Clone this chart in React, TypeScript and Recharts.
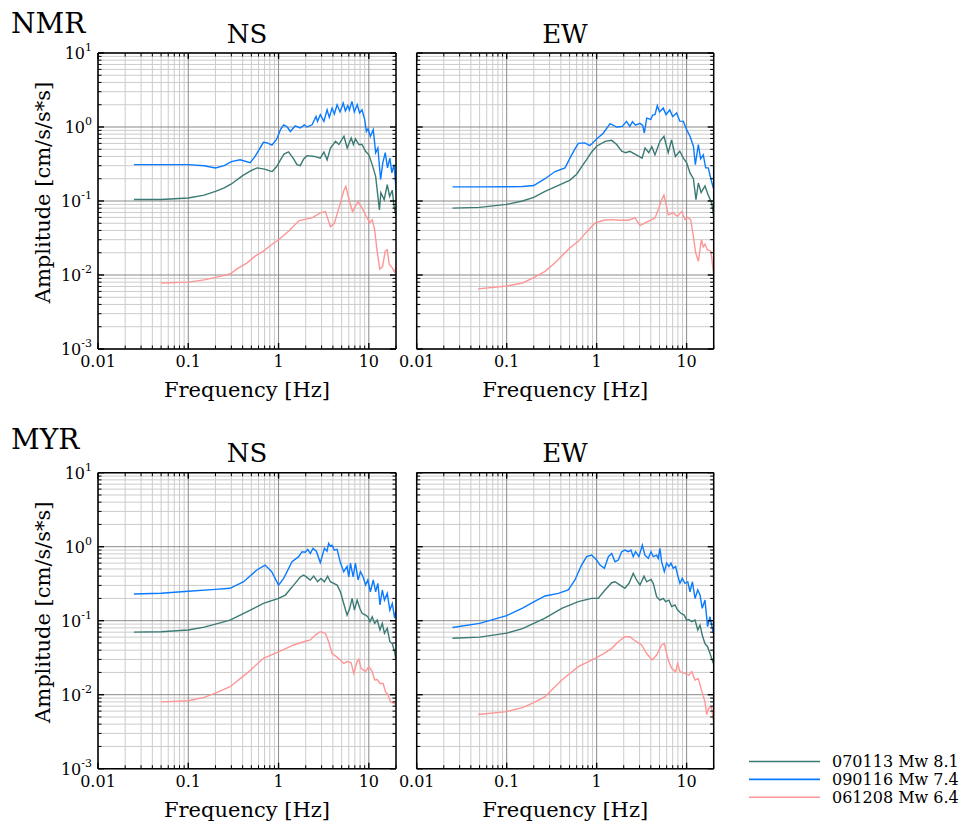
import React from "react";
import { LineChart, Line, XAxis, YAxis, CartesianGrid } from "recharts";

const FONT = '"DejaVu Serif", serif';
const GREEN = "#3b7a74";
const BLUE = "#0a7bff";
const RED = "#ff9696";

// axis ticks (log decades + minor steps)
const xMajor = [0.01, 0.1, 1, 10];
const xMinor = [0.02, 0.03, 0.04, 0.05, 0.06, 0.07, 0.08, 0.09, 0.2, 0.3, 0.4, 0.5, 0.6, 0.7, 0.8, 0.9, 2, 3, 4, 5, 6, 7, 8, 9, 20];
const yMajor = [0.001, 0.01, 0.1, 1, 10];
const yMinor = [
  0.002, 0.003, 0.004, 0.005, 0.006, 0.007, 0.008, 0.009,
  0.02, 0.03, 0.04, 0.05, 0.06, 0.07, 0.08, 0.09,
  0.2, 0.3, 0.4, 0.5, 0.6, 0.7, 0.8, 0.9,
  2, 3, 4, 5, 6, 7, 8, 9,
];
const xTicks = [...xMajor, ...xMinor].sort((a, b) => a - b);
const yTicks = [...yMajor, ...yMinor].sort((a, b) => a - b);

const legendNames = ["070113 Mw 8.1", "090116 Mw 7.4", "061208 Mw 6.4"];
const legendColors = [GREEN, BLUE, RED];

// [frequency Hz, amplitude cm/s/s*s]
const nmrNs070113 = [
  [0.025, 0.105], [0.05, 0.105], [0.1, 0.11], [0.15, 0.12], [0.2, 0.135], [0.25, 0.15], [0.3, 0.17],
  [0.4, 0.22], [0.5, 0.26], [0.58, 0.28], [0.7, 0.27], [0.8, 0.255], [0.85, 0.25], [0.95, 0.29],
  [1.05, 0.36], [1.15, 0.43], [1.29, 0.46], [1.45, 0.38], [1.6, 0.31], [1.74, 0.3], [1.9, 0.37],
  [2.07, 0.41], [2.5, 0.4], [2.9, 0.38], [3.18, 0.46], [3.45, 0.36], [3.76, 0.52], [4.27, 0.64],
  [4.66, 0.58], [5.3, 0.75], [5.76, 0.52], [6.38, 0.71], [6.75, 0.58], [7.1, 0.69], [7.76, 0.58],
  [8.4, 0.58], [9.2, 0.47], [10, 0.42], [10.9, 0.31], [11.9, 0.215], [13.1, 0.076], [13.6, 0.13],
  [14.8, 0.104], [16, 0.166], [17, 0.115], [18.2, 0.14], [19, 0.085], [20, 0.062],
];
const nmrNs090116 = [
  [0.025, 0.31], [0.05, 0.31], [0.1, 0.31], [0.15, 0.3], [0.2, 0.28], [0.25, 0.3], [0.3, 0.34],
  [0.375, 0.36], [0.485, 0.33], [0.55, 0.4], [0.6, 0.48], [0.68, 0.62], [0.75, 0.61], [0.845, 0.57],
  [0.95, 0.68], [1.05, 0.92], [1.14, 1.07], [1.25, 1.0], [1.35, 0.87], [1.53, 1.04], [1.74, 0.97],
  [1.93, 1.07], [2.07, 1.0], [2.35, 1.07], [2.6, 1.39], [2.7, 1.19], [2.9, 1.47], [3.18, 1.19],
  [3.45, 1.71], [3.65, 1.35], [3.92, 1.8], [4.15, 1.5], [4.45, 2.0], [4.8, 1.6], [5.2, 2.1],
  [5.5, 1.65], [5.85, 1.95], [6.1, 1.7], [6.5, 2.22], [6.9, 1.6], [7.44, 2.0], [7.9, 1.55],
  [8.4, 1.71], [9.0, 1.26], [9.4, 0.87], [9.8, 0.95], [10.4, 0.75], [11.2, 0.92], [11.9, 0.45],
  [12.6, 0.52], [13.5, 0.195], [14.3, 0.33], [15.2, 0.45], [16.1, 0.28], [17.1, 0.38], [18, 0.24],
  [19, 0.31], [19.6, 0.2], [20, 0.14],
];
const nmrNs061208 = [
  [0.05, 0.0078], [0.1, 0.008], [0.15, 0.0086], [0.2, 0.0093], [0.29, 0.0103], [0.35, 0.0122],
  [0.445, 0.0145], [0.55, 0.018], [0.68, 0.021], [0.85, 0.026], [1.0, 0.03], [1.29, 0.039],
  [1.68, 0.054], [2.0, 0.057], [2.35, 0.059], [2.9, 0.069], [3.3, 0.072], [3.76, 0.045],
  [4.15, 0.05], [4.66, 0.08], [5.3, 0.14], [5.56, 0.158], [6.1, 0.1], [6.6, 0.072], [7.6, 0.099],
  [8.4, 0.08], [9.6, 0.059], [10.2, 0.051], [10.9, 0.056], [11.6, 0.041], [12.3, 0.022],
  [13.2, 0.012], [14.2, 0.013], [15.2, 0.021], [16, 0.022], [16.8, 0.014], [18.2, 0.0125],
  [19.2, 0.011], [20, 0.0125],
];

const nmrEw070113 = [
  [0.025, 0.08], [0.05, 0.082], [0.1, 0.09], [0.15, 0.1], [0.2, 0.112], [0.267, 0.135], [0.41, 0.17],
  [0.5, 0.19], [0.6, 0.23], [0.68, 0.29], [0.77, 0.36], [0.88, 0.46], [1.0, 0.55], [1.24, 0.64],
  [1.47, 0.66], [1.67, 0.58], [1.9, 0.47], [2.1, 0.45], [2.34, 0.47], [2.67, 0.43], [3.2, 0.38],
  [3.45, 0.52], [3.8, 0.45], [4.1, 0.54], [4.45, 0.42], [5.05, 0.64], [5.6, 0.75], [6.25, 0.45],
  [6.8, 0.67], [7.5, 0.4], [8.4, 0.47], [9.2, 0.38], [10, 0.33], [10.9, 0.24], [11.9, 0.2],
  [12.7, 0.104], [13.5, 0.175], [14.5, 0.13], [16, 0.16], [17.4, 0.12], [19, 0.094], [20, 0.062],
];
const nmrEw090116 = [
  [0.025, 0.155], [0.05, 0.155], [0.1, 0.156], [0.15, 0.157], [0.2, 0.162], [0.267, 0.2],
  [0.345, 0.25], [0.445, 0.28], [0.505, 0.38], [0.56, 0.48], [0.625, 0.6], [0.74, 0.61],
  [0.84, 0.56], [1.0, 0.69], [1.19, 0.83], [1.41, 1.11], [1.67, 1.0], [1.93, 1.02], [2.15, 1.19],
  [2.34, 1.02], [2.5, 1.18], [2.71, 1.06], [3.03, 1.12], [3.25, 1.05], [3.39, 0.83], [3.6, 1.32],
  [4.0, 1.27], [4.2, 1.45], [4.45, 1.47], [4.72, 1.94], [5.0, 1.6], [5.5, 1.8], [5.9, 1.47],
  [6.5, 1.7], [7.0, 1.38], [7.75, 1.55], [8.4, 1.2], [9.2, 1.19], [10, 0.92], [10.9, 0.75],
  [11.9, 0.55], [12.5, 0.31], [13.5, 0.58], [14.3, 0.37], [15.3, 0.42], [16.3, 0.28],
  [17.4, 0.28], [18.6, 0.2], [19.8, 0.15],
];
const nmrEw061208 = [
  [0.048, 0.0065], [0.1, 0.0071], [0.15, 0.0078], [0.2, 0.0092], [0.267, 0.0112], [0.33, 0.014],
  [0.41, 0.018], [0.5, 0.023], [0.625, 0.0285], [0.8, 0.04], [0.96, 0.0505], [1.2, 0.055],
  [1.47, 0.056], [1.8, 0.055], [2.25, 0.055], [2.67, 0.059], [3.03, 0.0465], [3.45, 0.0505],
  [4.0, 0.055], [4.45, 0.059], [4.9, 0.08], [5.28, 0.104], [5.6, 0.12], [5.9, 0.09], [6.25, 0.065],
  [7.1, 0.069], [7.9, 0.062], [8.8, 0.072], [9.6, 0.056], [10.3, 0.06], [11.1, 0.056],
  [11.9, 0.033], [12.6, 0.02], [13.5, 0.0153], [14.6, 0.03], [15.3, 0.024], [16, 0.026],
  [17, 0.022], [18.6, 0.021], [20, 0.0101],
];

const myrNs070113 = [
  [0.025, 0.07], [0.05, 0.071], [0.1, 0.075], [0.15, 0.082], [0.2, 0.09], [0.29, 0.102],
  [0.445, 0.132], [0.68, 0.171], [1.0, 0.2], [1.19, 0.222], [1.47, 0.303], [1.74, 0.39],
  [1.9, 0.414], [2.06, 0.385], [2.25, 0.355], [2.45, 0.4], [2.71, 0.336], [2.95, 0.373],
  [3.22, 0.336], [3.5, 0.4], [3.75, 0.336], [4.08, 0.32], [4.45, 0.303], [4.84, 0.246],
  [5.27, 0.171], [5.74, 0.119], [6.15, 0.147], [6.53, 0.2], [6.93, 0.139], [7.42, 0.19],
  [7.94, 0.147], [8.43, 0.126], [9.2, 0.119], [9.75, 0.113], [10.3, 0.097], [10.9, 0.113],
  [11.6, 0.092], [12.4, 0.102], [13.3, 0.075], [14.1, 0.092], [14.9, 0.0675], [16, 0.079],
  [17.1, 0.052], [18.2, 0.049], [19.3, 0.038], [20, 0.0294],
];
const myrNs090116 = [
  [0.025, 0.229], [0.05, 0.235], [0.1, 0.25], [0.2, 0.265], [0.29, 0.274], [0.41, 0.336],
  [0.574, 0.484], [0.71, 0.565], [0.84, 0.46], [1.0, 0.303], [1.14, 0.373], [1.41, 0.627],
  [1.67, 0.733], [1.82, 0.856], [1.98, 0.84], [2.1, 0.92], [2.25, 0.81], [2.41, 0.95],
  [2.62, 0.87], [2.9, 0.61], [3.22, 0.95], [3.44, 0.87], [3.59, 1.11], [3.75, 1.02], [3.91, 1.05],
  [4.15, 0.9], [4.45, 0.92], [4.84, 0.61], [5.27, 0.46], [5.74, 0.54], [6.0, 0.39], [6.26, 0.6],
  [6.7, 0.39], [7.1, 0.6], [7.6, 0.355], [8.08, 0.46], [8.65, 0.39], [9.2, 0.303], [9.75, 0.355],
  [10.4, 0.246], [11.2, 0.355], [11.9, 0.246], [12.6, 0.32], [13.3, 0.163], [14.1, 0.26],
  [14.9, 0.19], [16, 0.234], [17.1, 0.139], [18.2, 0.171], [19.3, 0.108], [20, 0.139],
];
const myrNs061208 = [
  [0.05, 0.008], [0.1, 0.0083], [0.15, 0.0092], [0.2, 0.0105], [0.29, 0.0128], [0.445, 0.0194],
  [0.68, 0.031], [1.0, 0.038], [1.47, 0.047], [1.9, 0.052], [2.25, 0.055], [2.55, 0.064],
  [2.9, 0.071], [3.3, 0.0675], [3.59, 0.052], [3.91, 0.036], [4.37, 0.0327], [4.84, 0.0294],
  [5.27, 0.0265], [5.74, 0.028], [6.36, 0.027], [6.81, 0.0194], [7.42, 0.028], [7.74, 0.03],
  [8.22, 0.0227], [9.2, 0.0205], [10, 0.024], [10.9, 0.0205], [11.6, 0.0158], [12.4, 0.016],
  [13.3, 0.0142], [14.4, 0.0142], [15.3, 0.011], [16.3, 0.01], [17.4, 0.008], [19, 0.0077],
  [20, 0.0073],
];

const myrEw070113 = [
  [0.025, 0.058], [0.05, 0.06], [0.1, 0.068], [0.15, 0.078], [0.2, 0.092], [0.267, 0.108],
  [0.41, 0.147], [0.625, 0.181], [0.88, 0.2], [1.04, 0.2], [1.24, 0.26], [1.47, 0.326],
  [1.6, 0.336], [1.82, 0.303], [2.06, 0.274], [2.29, 0.32], [2.55, 0.436], [2.78, 0.355],
  [3.03, 0.303], [3.36, 0.4], [3.6, 0.336], [4.02, 0.362], [4.26, 0.32], [4.64, 0.211],
  [5.05, 0.19], [5.5, 0.2], [5.84, 0.181], [6.36, 0.19], [6.81, 0.155], [7.42, 0.163],
  [7.94, 0.139], [8.65, 0.126], [9.4, 0.119], [10, 0.102], [10.6, 0.104], [11.4, 0.097],
  [12.4, 0.102], [13.3, 0.075], [14.1, 0.087], [14.9, 0.064], [16, 0.049], [17.1, 0.0445],
  [18.2, 0.036], [19.8, 0.0265],
];
const myrEw090116 = [
  [0.025, 0.081], [0.05, 0.092], [0.1, 0.117], [0.15, 0.148], [0.2, 0.18], [0.267, 0.216],
  [0.375, 0.234], [0.484, 0.26], [0.574, 0.355], [0.68, 0.565], [0.774, 0.733], [0.88, 0.77],
  [1.0, 0.66], [1.09, 0.565], [1.22, 0.51], [1.35, 0.733], [1.47, 0.81], [1.6, 0.627],
  [1.74, 0.66], [1.9, 0.856], [2.06, 0.9], [2.25, 0.856], [2.41, 0.9], [2.55, 0.733],
  [2.71, 0.856], [2.95, 0.733], [3.22, 1.05], [3.44, 0.77], [3.75, 0.695], [4.02, 0.856],
  [4.26, 0.733], [4.64, 0.77], [4.84, 0.695], [5.05, 0.95], [5.27, 0.627], [5.65, 0.46],
  [6.0, 0.6], [6.36, 0.54], [6.7, 0.6], [7.1, 0.51], [7.55, 0.54], [7.94, 0.414], [8.43, 0.32],
  [8.95, 0.373], [9.58, 0.32], [10.3, 0.336], [10.9, 0.246], [11.6, 0.336], [12.4, 0.2],
  [13.3, 0.26], [14.1, 0.222], [14.9, 0.147], [16, 0.19], [17.1, 0.083], [18.2, 0.113],
  [19.8, 0.0675],
];
const myrEw061208 = [
  [0.048, 0.0054], [0.1, 0.0059], [0.15, 0.0067], [0.2, 0.0078], [0.267, 0.0094], [0.41, 0.0158],
  [0.625, 0.0239], [0.96, 0.031], [1.2, 0.036], [1.47, 0.0423], [1.74, 0.052], [2.06, 0.0608],
  [2.34, 0.0608], [2.67, 0.0537], [3.16, 0.047], [3.6, 0.036], [4.15, 0.0294], [4.64, 0.0344],
  [5.28, 0.047], [5.65, 0.049], [6.25, 0.0294], [6.81, 0.0227], [7.55, 0.0205], [7.94, 0.0265],
  [8.43, 0.0205], [9.58, 0.0194], [10.6, 0.0184], [11.4, 0.0205], [12.4, 0.0158], [13.5, 0.0165],
  [14.6, 0.0116], [16, 0.008], [16.7, 0.0054], [17.5, 0.0065], [18.9, 0.0069], [20, 0.0042],
];

const rows = (pts: number[][]) => pts.map(([f, a]) => ({ f, a }));

const isMajor = (v: number) => {
  const l = Math.log10(v);
  return Math.abs(l - Math.round(l)) < 1e-6;
};

function XTick(props: any) {
  const { x, y, payload, top, labels } = props;
  const v = payload.value;
  const major = isMajor(v);
  const len = major ? 6 : 3.5;
  const dir = top ? 1 : -1;
  return (
    <g>
      <line x1={x} y1={y} x2={x} y2={y + dir * len} stroke="#000" strokeWidth={major ? 1.4 : 1} />
      {labels && major && (
        <text x={x} y={y + 18} textAnchor="middle" fontFamily={FONT} fontSize={16} fill="#000">
          {String(v)}
        </text>
      )}
    </g>
  );
}

function YTick(props: any) {
  const { x, y, payload, right, labels } = props;
  const v = payload.value;
  const major = isMajor(v);
  const len = major ? 6 : 3.5;
  const dir = right ? -1 : 1;
  const exp = Math.round(Math.log10(v));
  return (
    <g>
      <line x1={x} y1={y} x2={x + dir * len} y2={y} stroke="#000" strokeWidth={major ? 1.4 : 1} />
      {labels && major && (
        <text x={x - 6} y={y + 6} textAnchor="end" fontFamily={FONT} fontSize={16} fill="#000">
          10
          <tspan dy={-8} fontSize={11}>
            {String(exp)}
          </tspan>
        </text>
      )}
    </g>
  );
}

function FreqLabel(props: any) {
  const { x, y, width } = props.viewBox;
  return (
    <text x={x + width / 2} y={y + 48} textAnchor="middle" fontFamily={FONT} fontSize={21} fill="#000">
      Frequency [Hz]
    </text>
  );
}

function AmpLabel(props: any) {
  const { x, y, width, height } = props.viewBox;
  const cx = x + width - 48;
  const cy = y + height / 2 - 8.5;
  return (
    <text
      x={cx}
      y={cy}
      transform={`rotate(-90 ${cx} ${cy})`}
      textAnchor="middle"
      fontFamily={FONT}
      fontSize={21}
      fill="#000"
    >
      Amplitude [cm/s/s*s]
    </text>
  );
}

type PanelProps = {
  left: number;
  top: number;
  width: number;
  height: number;
  margin: { top: number; right: number; bottom: number; left: number };
  yLabels: boolean;
  series: number[][][];
};

// axes get a 1px box (an axis of size 0 is not drawn), margins leave room for it
function Panel({ left, top, width, height, margin, yLabels, series }: PanelProps) {
  const frame = { stroke: "#000", strokeWidth: 1.5 };
  return (
    <div style={{ position: "absolute", left, top }}>
      <LineChart width={width} height={height} margin={margin}>
        <CartesianGrid xAxisId="b" yAxisId="l" verticalValues={xMinor} horizontalValues={yMinor} stroke="#cccccc" />
        <CartesianGrid xAxisId="b" yAxisId="l" verticalValues={xMajor} horizontalValues={yMajor} stroke="#8a8a8a" />
        <XAxis
          xAxisId="b"
          type="number"
          dataKey="f"
          scale="log"
          domain={[0.01, 20]}
          allowDataOverflow
          ticks={xTicks}
          interval={0}
          height={1}
          tickSize={0}
          tickMargin={0}
          tickLine={false}
          axisLine={frame}
          tick={(p: any) => <XTick {...p} labels />}
          label={<FreqLabel />}
        />
        <XAxis
          xAxisId="t"
          orientation="top"
          type="number"
          dataKey="f"
          scale="log"
          domain={[0.01, 20]}
          allowDataOverflow
          ticks={xTicks}
          interval={0}
          height={1}
          tickSize={0}
          tickMargin={0}
          tickLine={false}
          axisLine={frame}
          tick={(p: any) => <XTick {...p} top />}
        />
        <YAxis
          yAxisId="l"
          type="number"
          scale="log"
          domain={[0.001, 10]}
          allowDataOverflow
          ticks={yTicks}
          interval={0}
          width={1}
          tickSize={0}
          tickMargin={0}
          tickLine={false}
          axisLine={frame}
          tick={(p: any) => <YTick {...p} labels={yLabels} />}
          label={yLabels ? <AmpLabel /> : undefined}
        />
        <YAxis
          yAxisId="r"
          orientation="right"
          type="number"
          scale="log"
          domain={[0.001, 10]}
          allowDataOverflow
          ticks={yTicks}
          interval={0}
          width={1}
          tickSize={0}
          tickMargin={0}
          tickLine={false}
          axisLine={frame}
          tick={(p: any) => <YTick {...p} right />}
        />
        {series.map((s, i) => (
          <Line
            key={legendNames[i]}
            xAxisId="b"
            yAxisId="l"
            data={rows(s)}
            dataKey="a"
            name={legendNames[i]}
            type="linear"
            stroke={legendColors[i]}
            strokeWidth={1.4}
            dot={false}
            isAnimationActive={false}
          />
        ))}
      </LineChart>
    </div>
  );
}

const leftCol = { left: 0, width: 406, mLeft: 97, mRight: 9 };
const rightCol = { left: 406, width: 314, mLeft: 9.7, mRight: 5.3 };
const topRow = { top: 0, height: 409, mTop: 52, mBottom: 59 };
const botRow = { top: 416, height: 410, mTop: 55.7, mBottom: 56.3 };

function cell(col: typeof leftCol, row: typeof topRow) {
  return {
    left: col.left,
    top: row.top,
    width: col.width,
    height: row.height,
    margin: { top: row.mTop, right: col.mRight, bottom: row.mBottom, left: col.mLeft },
  };
}

export default function App() {
  return (
    <div style={{ position: "absolute", left: 0, top: 0, width: 966, height: 826, background: "#fff" }}>
      <style>{".recharts-surface { overflow: visible; }"}</style>
      <svg width={966} height={826} style={{ position: "absolute", left: 0, top: 0 }}>
        <g fontFamily={FONT} fill="#000">
          <text x={11} y={33} fontSize={28}>NMR</text>
          <text x={247} y={43} fontSize={26} textAnchor="middle">NS</text>
          <text x={565} y={43} fontSize={26} textAnchor="middle">EW</text>
          <text x={11} y={449} fontSize={28}>MYR</text>
          <text x={247} y={462} fontSize={26} textAnchor="middle">NS</text>
          <text x={565} y={462} fontSize={26} textAnchor="middle">EW</text>
        </g>
        {legendNames.map((n, i) => (
          <g key={n}>
            <line x1={749} x2={820} y1={761.5 + i * 17.9} y2={761.5 + i * 17.9} stroke={legendColors[i]} strokeWidth={1.6} />
            <text x={832} y={767.3 + i * 17.9} fontFamily={FONT} fontSize={16} fill="#000">
              {n}
            </text>
          </g>
        ))}
      </svg>
      <Panel {...cell(leftCol, topRow)} yLabels series={[nmrNs070113, nmrNs090116, nmrNs061208]} />
      <Panel {...cell(rightCol, topRow)} yLabels={false} series={[nmrEw070113, nmrEw090116, nmrEw061208]} />
      <Panel {...cell(leftCol, botRow)} yLabels series={[myrNs070113, myrNs090116, myrNs061208]} />
      <Panel {...cell(rightCol, botRow)} yLabels={false} series={[myrEw070113, myrEw090116, myrEw061208]} />
    </div>
  );
}
